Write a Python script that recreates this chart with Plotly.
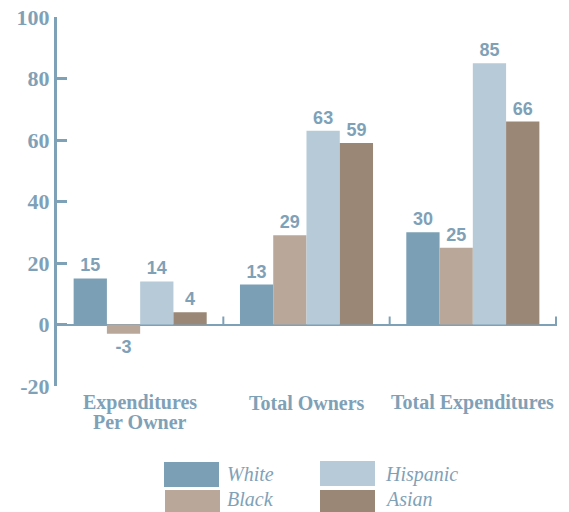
import plotly.graph_objects as go

categories = ["Expenditures<br>Per Owner", "Total Owners", "Total Expenditures"]
series_names = ["White", "Black", "Hispanic", "Asian"]
white = [15, 13, 30]
black = [-3, 29, 25]
hispanic = [14, 63, 85]
asian = [4, 59, 66]
series_values = [white, black, hispanic, asian]
y_ticks = [-20, 0, 20, 40, 60, 80, 100]

colors = ["#7ba0b5", "#b9a899", "#b6cad8", "#9a8776"]
axis_color = "#7fa1b7"

W, H = 569, 512
L, R, T, B = 57, 12, 17, 126
pw, ph = W - L - R, H - T - B


def px_x(x):
    return (x - L) / pw


def px_y(y):
    return (H - B - y) / ph


fig = go.Figure()
for name, vals, col in zip(series_names, series_values, colors):
    fig.add_trace(go.Bar(
        x=categories, y=vals, name=name, marker=dict(color=col, line=dict(width=0)),
        text=[str(v) for v in vals], texttemplate="%{text}",
        textposition="outside", cliponaxis=False,
        textfont=dict(family="Liberation Sans", size=18, color=axis_color, weight="bold"),
        showlegend=False,
    ))

shapes = []
for xb in [0.5, 1.5, 2.5]:
    shapes.append(dict(type="line", xref="x", yref="y", x0=xb, x1=xb, y0=0, y1=2.6,
                       line=dict(color=axis_color, width=2)))

annotations = []
cat_font = dict(family="Liberation Serif", size=20, color=axis_color, weight="bold")
for c in categories:
    for i, line in enumerate(c.split("<br>")):
        annotations.append(dict(xref="x", yref="paper", x=c, y=px_y(403 + 19 * i),
                                xanchor="center", yanchor="middle", showarrow=False,
                                text=line, font=cat_font))

legend_pos = [(164, 462, 487, 225, 474), (165, 490, 516, 225, 499),
              (320, 461, 486, 383, 474), (320, 490, 516, 383, 499)]
for name, col, (sx, sy0, sy1, tx, ty) in zip(series_names, colors, legend_pos):
    shapes.append(dict(type="rect", xref="paper", yref="paper",
                       x0=px_x(sx), x1=px_x(sx + 55), y0=px_y(sy1), y1=px_y(sy0),
                       fillcolor=col, line=dict(width=0)))
    annotations.append(dict(xref="paper", yref="paper", x=px_x(tx), y=px_y(ty),
                            xanchor="left", yanchor="middle", showarrow=False,
                            text="<i>%s</i>" % name,
                            font=dict(family="Liberation Serif", size=20, color=axis_color)))

fig.update_layout(
    width=W, height=H, margin=dict(l=L, r=R, t=T, b=B, autoexpand=False),
    paper_bgcolor="white", plot_bgcolor="white",
    barmode="group", bargap=0.2, bargroupgap=0,
    shapes=shapes, annotations=annotations,
    xaxis=dict(showline=False, showgrid=False, ticks="", showticklabels=False,
               automargin=False),
    yaxis=dict(range=[-20, 100], tickvals=y_ticks, ticktext=[str(v) for v in y_ticks],
               showgrid=False, automargin=False,
               showline=True, linecolor=axis_color, linewidth=3,
               ticks="inside", ticklen=10, tickwidth=3, tickcolor=axis_color,
               zeroline=True, zerolinecolor=axis_color, zerolinewidth=2,
               tickfont=dict(family="Liberation Serif", size=22, color=axis_color,
                             weight="bold")),
    font=dict(family="Liberation Serif"),
)

fig.write_html("out.html")
